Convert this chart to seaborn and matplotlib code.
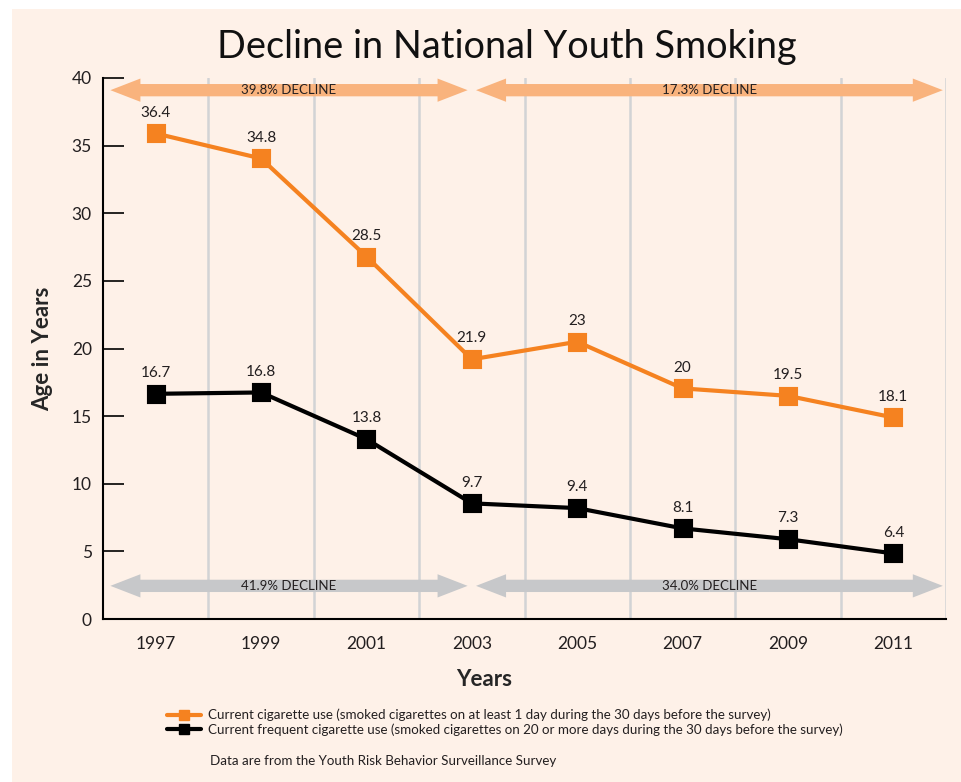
import matplotlib
matplotlib.use("Agg")
import matplotlib.pyplot as plt
from matplotlib.lines import Line2D
from matplotlib.patches import Rectangle
import seaborn as sns
import pandas as pd

# ---------------- data ----------------
years = ["1997", "1999", "2001", "2003", "2005", "2007", "2009", "2011"]
current_use = [35.9, 34.05, 26.8, 19.2, 20.5, 17.05, 16.5, 14.9]
current_use_labels = ["36.4", "34.8", "28.5", "21.9", "23", "20", "19.5", "18.1"]
frequent_use = [16.65, 16.75, 13.3, 8.55, 8.2, 6.7, 5.9, 4.85]
frequent_use_labels = ["16.7", "16.8", "13.8", "9.7", "9.4", "8.1", "7.3", "6.4"]
series_names = [
    "Current cigarette use (smoked cigarettes on at least 1 day during the 30 days before the survey)",
    "Current frequent cigarette use (smoked cigarettes on 20 or more days during the 30 days before the survey)",
]
top_declines = ["39.8% DECLINE", "17.3% DECLINE"]
bottom_declines = ["41.9% DECLINE", "34.0% DECLINE"]
y_ticks = [0, 5, 10, 15, 20, 25, 30, 35, 40]

ORANGE = "#f58220"
BLACK = "#000000"
BG = "#fef1e8"
GRID = "#d2d3d5"
ARROW_TOP = "#f9b37d"
ARROW_BOTTOM = "#c7c8ca"
FONT = ["Lato", "DejaVu Sans"]

sns.set_theme(style="white")
plt.rcParams["font.family"] = FONT

df = pd.DataFrame({
    "year": years * 2,
    "value": current_use + frequent_use,
    "series": [series_names[0]] * len(years) + [series_names[1]] * len(years),
})

fig = plt.figure(figsize=(9.61, 7.82), dpi=100, facecolor="white")
fig.patches.append(Rectangle((12 / 961, 0), 1 - 12 / 961, 1 - 9 / 782,
                             transform=fig.transFigure, facecolor=BG,
                             edgecolor="none", zorder=-10))
ax = fig.add_axes([103 / 961, 1 - 619 / 782, (946 - 103) / 961, (619 - 78) / 782])
ax.set_facecolor(BG)

sns.pointplot(data=df, x="year", y="value", hue="series", order=years,
              hue_order=series_names, palette=[ORANGE, BLACK], markers="s",
              linestyles="-", errorbar=None, markersize=12, linewidth=3,
              legend=False, ax=ax, zorder=5)

for i in range(len(years)):
    ax.annotate(current_use_labels[i], (i, current_use[i]), xytext=(0, 15),
                textcoords="offset points", ha="center", va="center",
                fontsize=11, color="#231f20")
    ax.annotate(frequent_use_labels[i], (i, frequent_use[i]), xytext=(0, 15),
                textcoords="offset points", ha="center", va="center",
                fontsize=11, color="#231f20")

ax.set_xlim(-0.5, len(years) - 0.5)
ax.set_ylim(0, 40)
ax.set_yticks(y_ticks)
ax.set_xticks(range(len(years)))
ax.set_xticklabels(years)
ax.set_xticks([i + 0.5 for i in range(len(years))], minor=True)
ax.grid(which="minor", axis="x", color=GRID, linewidth=1.8, zorder=0)
ax.grid(which="major", visible=False)
ax.set_axisbelow(True)

for s in ["top", "right"]:
    ax.spines[s].set_visible(False)
for s in ["left", "bottom"]:
    ax.spines[s].set_color("black")
    ax.spines[s].set_linewidth(1.5)

ax.tick_params(axis="y", direction="in", length=15, width=1.2, color="black",
               pad=8, labelsize=12.5, labelcolor="#231f20", left=True)
ax.tick_params(axis="x", which="both", length=0, pad=12, labelsize=12.5,
               labelcolor="#231f20")

ax.set_xlabel("Years", fontsize=16, fontweight="bold")
ax.xaxis.set_label_coords((484 - 103) / 843, -0.092)
ax.set_ylabel("Age in Years", fontsize=16, fontweight="bold", labelpad=13)

# decline arrows (two-headed)
def double_arrow(x0, x1, y, color, text):
    mid = (x0 + x1) / 2
    for end in (x0, x1):
        ax.arrow(mid, y, end - mid, 0, width=0.91, head_width=1.72,
                 head_length=0.285, length_includes_head=True,
                 color=color, linewidth=0, zorder=3)
    ax.text(mid, y, text, ha="center", va="center", fontsize=9.5,
            color="#231f20", zorder=4)

spans = [(-0.43, 2.96), (3.04, 7.47)]
for (x0, x1), t in zip(spans, top_declines):
    double_arrow(x0, x1, 39.1, ARROW_TOP, t)
for (x0, x1), t in zip(spans, bottom_declines):
    double_arrow(x0, x1, 2.45, ARROW_BOTTOM, t)

fig.text(507 / 961, 1 - 47 / 782, "Decline in National Youth Smoking",
         ha="center", va="center", fontsize=27.3, color="#111111")

handles = [Line2D([], [], color=ORANGE, lw=3, marker="s", markersize=7),
           Line2D([], [], color=BLACK, lw=3, marker="s", markersize=7)]
fig.legend(handles, series_names, loc="upper left",
           bbox_to_anchor=(160 / 961, 1 - 702 / 782), frameon=False,
           fontsize=9.6, handlelength=2.6, handletextpad=0.5,
           labelspacing=0.15, borderpad=0, labelcolor="#231f20")

fig.text(210 / 961, 1 - 761 / 782,
         "Data are from the Youth Risk Behavior Surveillance Survey",
         ha="left", va="center", fontsize=9.6, color="#231f20")

fig.savefig("out.png", dpi=100, facecolor="white")
